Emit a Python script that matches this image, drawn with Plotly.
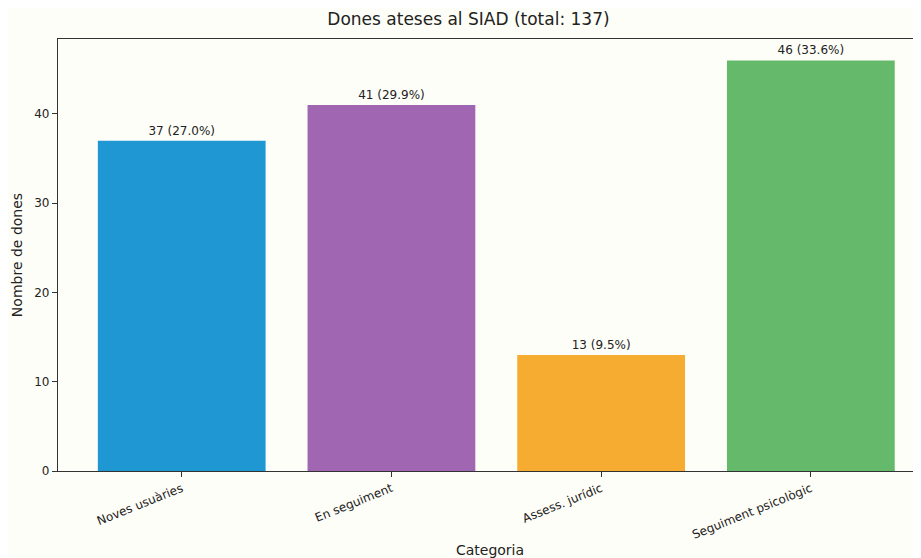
import plotly.graph_objects as go

categories = ["Noves usuàries", "En seguiment", "Assess. jurídic", "Seguiment psicològic"]
values = [37, 41, 13, 46]
percents = ["27.0%", "29.9%", "9.5%", "33.6%"]
colors = ["#1f97d2", "#a066b2", "#f5ac30", "#65b96b"]
total = sum(values)

labels = [f"{v} ({p})" for v, p in zip(values, percents)]

fig = go.Figure()
fig.add_trace(go.Bar(
    x=list(range(len(categories))),
    y=values,
    marker=dict(color=colors, line=dict(width=0)),
    width=0.8,
    text=labels,
    textposition="outside",
    textfont=dict(size=12, color="#222222", family="DejaVu Sans"),
    cliponaxis=False,
))

fig.update_layout(
    width=921, height=558,
    margin=dict(l=50, r=7, t=31, b=95),
    paper_bgcolor="#fefef8",
    plot_bgcolor="#fefef8",
    font=dict(family="DejaVu Sans", color="#222222", size=12),
    title=dict(text=f"Dones ateses al SIAD (total: {total})", x=0.5, xanchor="center",
               y=0.99, yanchor="top", font=dict(size=17, color="#222222")),
    showlegend=False,
    bargap=0.2,
)
fig.update_xaxes(
    range=[-0.59, 3.53],
    automargin=False,
    tickmode="array",
    tickvals=list(range(len(categories))),
    ticktext=categories,
    tickangle=-22,
    ticks="outside", ticklen=5, tickcolor="#333333",
    showline=True, linecolor="#333333", linewidth=1.2, mirror=True,
    showgrid=False, zeroline=False,
    title=dict(text="Categoria", font=dict(size=14), standoff=4),
    tickfont=dict(size=12),
)
fig.update_yaxes(
    range=[0, 48.4],
    automargin=False,
    tickvals=[0, 10, 20, 30, 40],
    ticks="outside", ticklen=5, tickcolor="#333333",
    showline=True, linecolor="#333333", linewidth=1.2, mirror=False,
    showgrid=False, zeroline=False,
    title=dict(text="Nombre de dones", font=dict(size=14), standoff=8),
    tickfont=dict(size=12),
)

fig.write_html("out.html")
